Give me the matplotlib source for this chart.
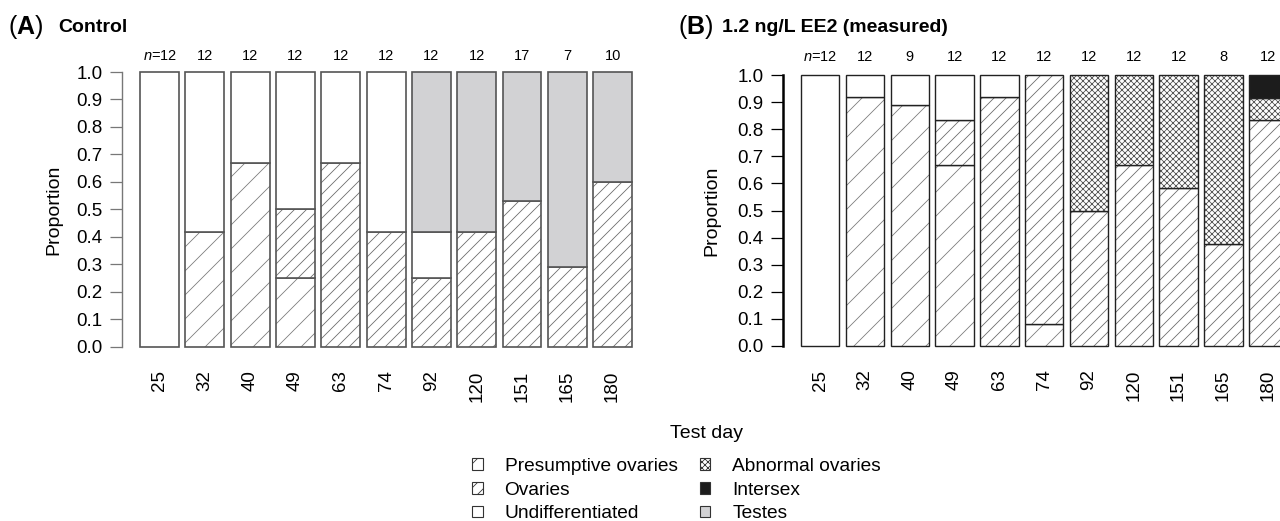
import numpy as np
import matplotlib.pyplot as plt
from matplotlib.patches import Patch

# figure is drawn at 72 dpi so hatch spacing matches; sizes given as if 100 dpi
DPI = 72
S = 100 / DPI

plt.rcParams['font.family'] = 'Liberation Sans'
plt.rcParams['mathtext.fontset'] = 'custom'
plt.rcParams['mathtext.rm'] = 'Liberation Sans'
plt.rcParams['mathtext.it'] = 'Liberation Sans:italic'
plt.rcParams['mathtext.bf'] = 'Liberation Sans:bold'
plt.rcParams['hatch.linewidth'] = 0.8

# data
days = ['25', '32', '40', '49', '63', '74', '92', '120', '151', '165', '180']
n_ctrl = [12, 12, 12, 12, 12, 12, 12, 12, 17, 7, 10]
n_ee2 = [12, 12, 9, 12, 12, 12, 12, 12, 12, 8, 12]

ctrl_presumptive = [0, 0.417, 0.667, 0.25, 0, 0, 0, 0, 0, 0, 0]
ctrl_ovaries = [0, 0, 0, 0.25, 0.667, 0.417, 0.25, 0.417, 0.53, 0.29, 0.6]
ctrl_undiff = [1.0, 0.583, 0.333, 0.5, 0.333, 0.583, 0.167, 0, 0, 0, 0]
ctrl_abnormal = [0] * 11
ctrl_intersex = [0] * 11
ctrl_testes = [0, 0, 0, 0, 0, 0, 0.583, 0.583, 0.47, 0.71, 0.4]

ee2_presumptive = [0, 0.917, 0.889, 0.667, 0, 0.083, 0, 0, 0, 0, 0]
ee2_ovaries = [0, 0, 0, 0.167, 0.917, 0.917, 0.5, 0.667, 0.583, 0.375, 0.833]
ee2_undiff = [1.0, 0.083, 0.111, 0.167, 0.083, 0, 0, 0, 0, 0, 0]
ee2_abnormal = [0, 0, 0, 0, 0, 0, 0.5, 0.333, 0.417, 0.625, 0.083]
ee2_intersex = [0, 0, 0, 0, 0, 0, 0, 0, 0, 0, 0.083]
ee2_testes = [0] * 11

names = ['Presumptive ovaries', 'Ovaries', 'Undifferentiated',
         'Abnormal ovaries', 'Intersex', 'Testes']
faces = ['white', 'white', 'white', 'white', '#1c1c1c', '#d2d2d4']
hatches = ['/', '//', None, 'xxxx', None, None]
hcols = ['#7a7a7a', '#6a6a6a', '#444444', '#555555', '#1c1c1c', '#d2d2d4']

W, H = 1280, 521
fig = plt.figure(figsize=(W / DPI, H / DPI), dpi=DPI)
xmin, xmax = -0.83, 10.6


def panel(left, top, bottom, pitch, series, nvals, edge, lw, spcol, splw, nlift):
    ax = fig.add_axes([left / W, (H - bottom) / H,
                       (xmax - xmin) * pitch / W, (bottom - top) / H])
    x = np.arange(len(days))
    base = np.zeros(len(days))
    for vals, fc, hat, hc in zip(series, faces, hatches, hcols):
        vals = np.array(vals, dtype=float)
        m = vals > 0
        ax.bar(x[m], vals[m], 0.86, bottom=base[m], color=fc, edgecolor=hc,
               linewidth=0, hatch=hat, clip_on=False)
        ax.bar(x[m], vals[m], 0.86, bottom=base[m], fill=False,
               edgecolor=edge, linewidth=lw * S, clip_on=False)
        base += vals
    for i, n in enumerate(nvals):
        lab = r'$n$=%d' % n if i == 0 else str(n)
        ax.text(i, 1 + nlift, lab, ha='center', va='center',
                fontsize=10.5 * S, clip_on=False)
    ax.set_xlim(xmin, xmax)
    ax.set_ylim(0, 1)
    for s in ['top', 'right', 'bottom']:
        ax.spines[s].set_visible(False)
    ax.spines['left'].set_bounds(0, 1)
    ax.spines['left'].set_color(spcol)
    ax.spines['left'].set_linewidth(splw * S)
    ax.set_yticks(np.arange(0, 1.01, 0.1))
    ax.set_yticklabels(['%.1f' % v for v in np.arange(0, 1.01, 0.1)])
    ax.tick_params(axis='y', length=9 * S, width=0.9 * S, color=spcol,
                   pad=5 * S, labelsize=13.5 * S)
    ax.set_xticks(x, days, rotation=90)
    ax.tick_params(axis='x', length=0, pad=17 * S, labelsize=13.5 * S)
    ax.set_ylabel('Proportion', fontsize=14 * S)
    return ax


axA = panel(122, 72, 346.7, 45.3,
            [ctrl_presumptive, ctrl_ovaries, ctrl_undiff, ctrl_abnormal,
             ctrl_intersex, ctrl_testes], n_ctrl, '#555555', 1.2, '#777777', 1.0, 0.06)
axA.yaxis.labelpad = 10 * S
axB = panel(783, 75, 346, 44.8,
            [ee2_presumptive, ee2_ovaries, ee2_undiff, ee2_abnormal,
             ee2_intersex, ee2_testes], n_ee2, '#222222', 1.0, 'black', 1.8, 0.066)
axB.yaxis.labelpad = 12 * S

fig.text(8 / W, 1 - 27 / H, r'($\mathbf{A}$)', fontsize=18 * S, va='center')
fig.text(58 / W, 1 - 28 / H, 'Control', fontsize=14 * S, weight='bold',
         va='center')
fig.text(678 / W, 1 - 27 / H, r'($\mathbf{B}$)', fontsize=18 * S, va='center')
fig.text(722 / W, 1 - 28 / H, '1.2 ng/L EE2 (measured)', fontsize=14 * S,
         weight='bold', va='center')

fig.text(707 / W, 1 - 434 / H, 'Test day', ha='center', va='center',
         fontsize=14 * S)

handles = [Patch(facecolor=fc, edgecolor='#333333', hatch=hat, linewidth=0.8 * S)
           for fc, hat in zip(faces, hatches)]
fig.legend(handles, names, ncol=2, loc='upper left',
           bbox_to_anchor=(472 / W, 1 - 458 / H), frameon=False,
           fontsize=13.8 * S, handlelength=0.55, handleheight=0.55,
           handletextpad=1.15, columnspacing=1.15, labelspacing=0.35,
           borderpad=0, borderaxespad=0)

fig.savefig('out.png', dpi=DPI)
